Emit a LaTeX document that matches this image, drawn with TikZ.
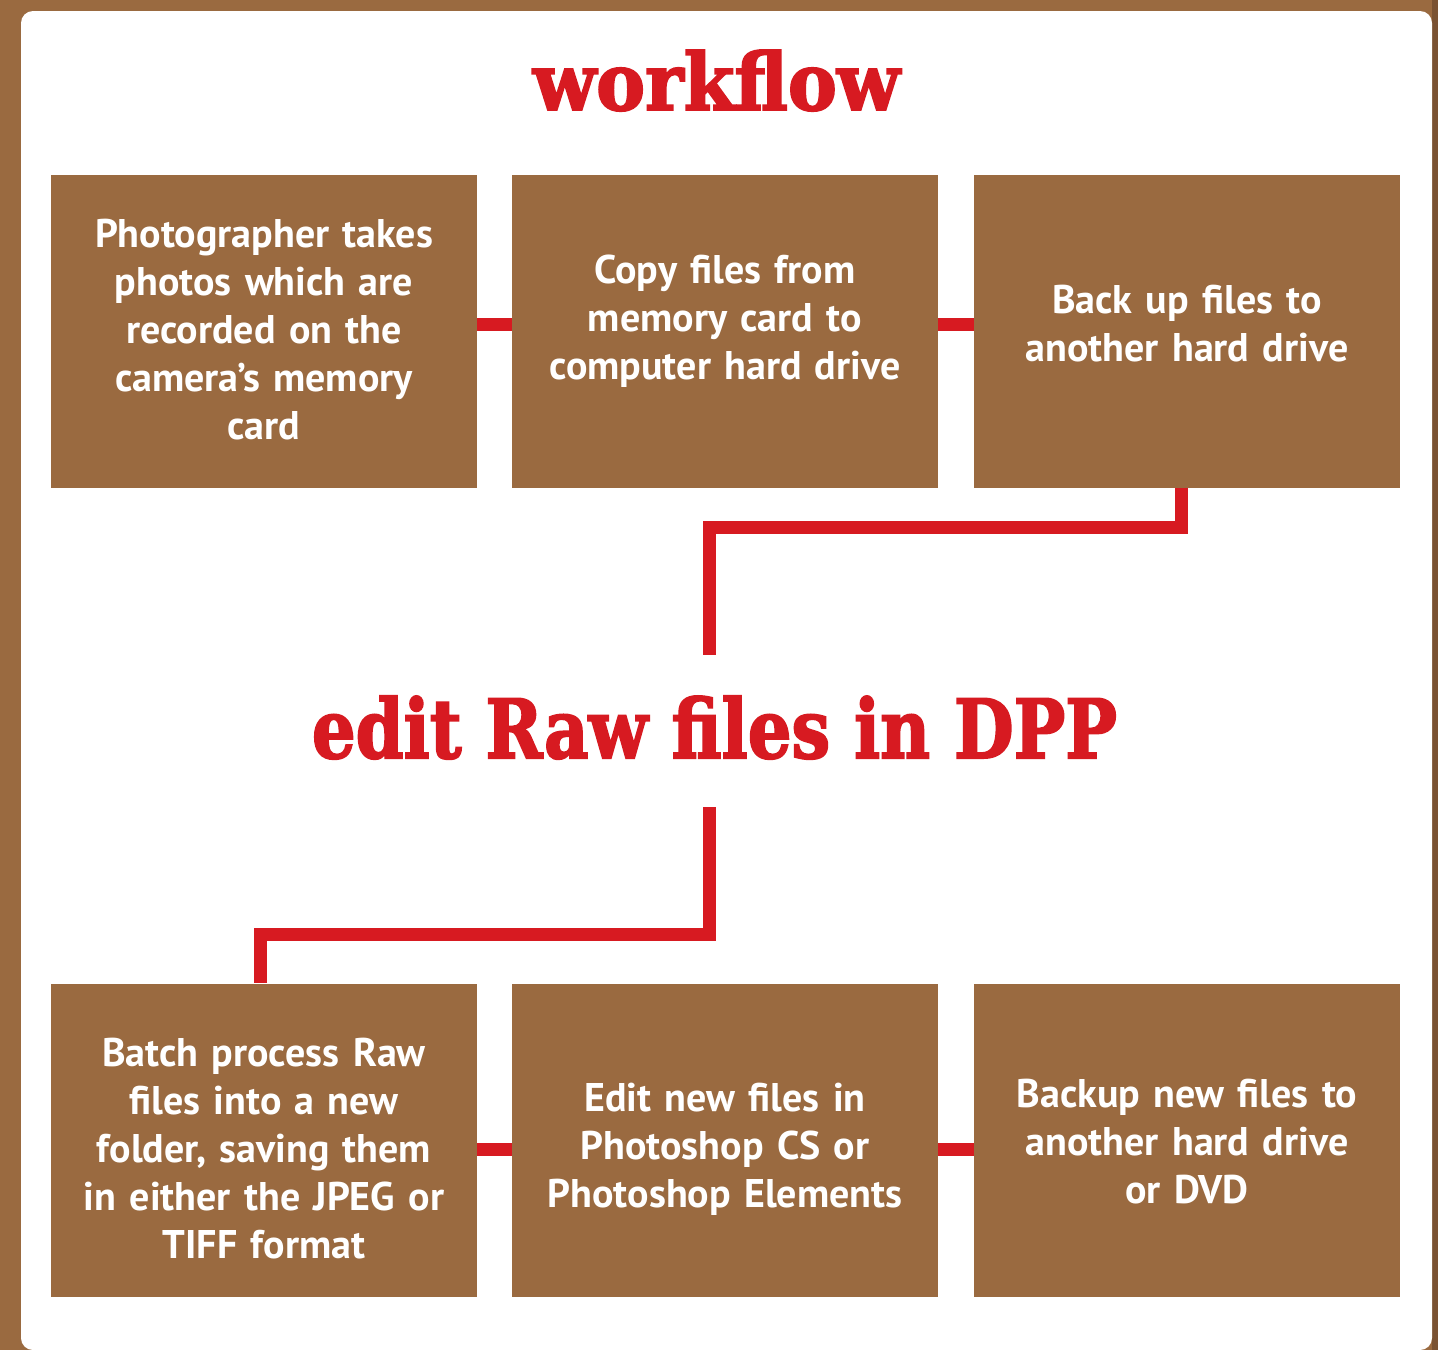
\documentclass[tikz,border=0pt]{standalone}
\usepackage{fontspec}
\setmainfont{PT Sans}
\newfontfamily\slabfont{DejaVu Serif Bold}[FakeBold=2.5]
\usetikzlibrary{calc}
\definecolor{boxbrown}{HTML}{9A6A40}
\definecolor{edgebrown}{HTML}{7A5232}
\definecolor{flowred}{HTML}{D71A21}
\tikzstyle{stage}=[fill=boxbrown, minimum width=213pt, minimum height=156.5pt, inner sep=0pt]
\tikzstyle{caption}=[text=white, text width=205pt, align=center, inner sep=0pt, font=\fontsize{20}{24}\selectfont\bfseries]
\tikzstyle{link}=[flowred, line width=6.5pt]
\tikzstyle{heading}=[text=flowred, inner sep=0pt, anchor=base]

\begin{document}
\begin{tikzpicture}[x=0.5pt, y=-0.5pt]
  \useasboundingbox (0,0) rectangle (1438,1350);
  \fill[boxbrown] (0,0) rectangle (1438,1350);
  \fill[edgebrown] (1432,0) rectangle (1438,1350);
  \fill[white, rounded corners=6pt] (21,11) rectangle (1432,1350);

  \node[heading] (title) at (716.5,110) {\resizebox{183.5pt}{30pt}{\slabfont workflow}};

  % first row
  \node[stage] (s1) at (264,331.5) {};
  \node[stage] (s2) at (725,331.5) {};
  \node[stage] (s3) at (1187,331.5) {};
  \node[caption, yshift=1pt] (t1) at (s1) {Photographer takes\\photos which are\\recorded on the\\camera’s memory\\card};
  \node[caption, yshift=5pt] (t2) at (s2) {Copy files from\\memory card to\\computer hard drive};
  \node[caption, yshift=4pt] (t3) at (s3) {Back up files to\\another hard drive};

  \node[heading] (dpp) at (714.5,758) {\resizebox{402.5pt}{31pt}{\slabfont edit Raw files in DPP}};

  % second row
  \node[stage] (s4) at (264,1140) {};
  \node[stage] (s5) at (725,1140) {};
  \node[stage] (s6) at (1187,1140) {};
  \node[caption, yshift=-4.5pt] (t4) at (s4) {Batch process Raw\\files into a new\\folder, saving them\\in either the JPEG or\\TIFF format};
  \node[caption, yshift=-4.5pt] (t5) at (s5) {Edit new files in\\Photoshop CS or\\Photoshop Elements};
  \node[caption, yshift=-1pt] (t6) at (s6) {Backup new files to\\another hard drive\\or DVD};

  \coordinate (turn1) at (709,527);
  \coordinate (dppin) at (709,655);
  \coordinate (dppout) at (709,807);
  \coordinate (turn2) at (709,934);

  \draw[link] ([yshift=3.5pt]s1.east) -- ([yshift=3.5pt]s2.west);
  \draw[link] ([yshift=3.5pt]s2.east) -- ([yshift=3.5pt]s3.west);
  \draw[link] ([xshift=-3pt]s3.south) |- (turn1) -- (dppin);
  \draw[link] (dppout) -- (turn2) -| ([xshift=-1.75pt]s4.north);
  \draw[link] ([yshift=-4.5pt]s4.east) -- ([yshift=-4.5pt]s5.west);
  \draw[link] ([yshift=-4.5pt]s5.east) -- ([yshift=-4.5pt]s6.west);
\end{tikzpicture}
\end{document}
